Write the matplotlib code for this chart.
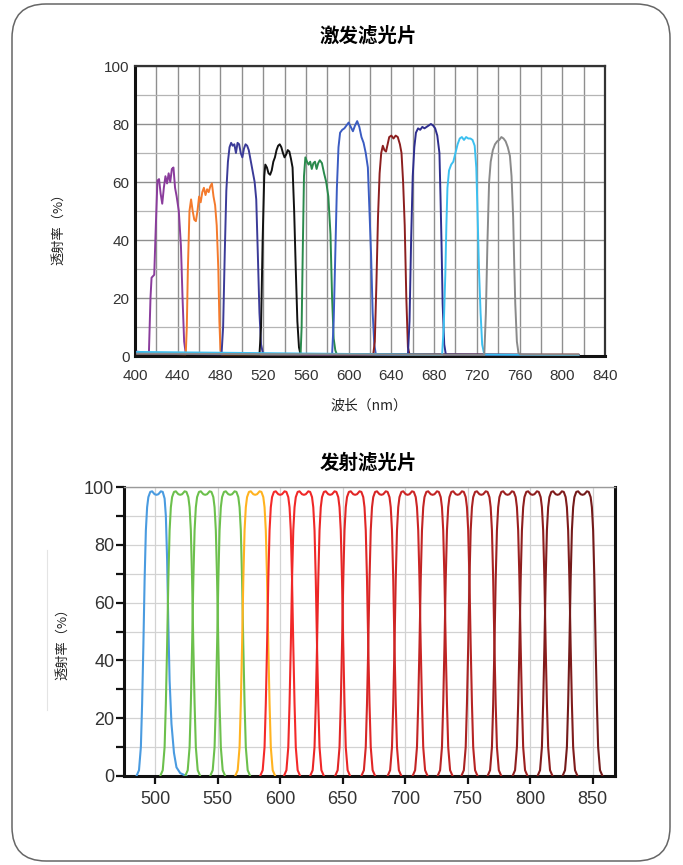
import matplotlib

matplotlib.use("Agg")
import matplotlib.pyplot as plt
import numpy as np
from matplotlib.patches import FancyBboxPatch

plt.rcParams["font.family"] = ["Liberation Sans", "Noto Sans CJK SC", "DejaVu Sans"]
CJK = ["Noto Sans CJK SC", "DejaVu Sans"]

# ---- excitation filters (wavelength nm, transmission %)
ex_names = ["purple", "orange", "navy", "black", "green", "blue", "brown", "navy2", "sky", "gray"]
ex_colors = ["#8a3c9c", "#f47a2c", "#3b3b98", "#111111", "#2a8a4c",
             "#3b5cc2", "#8c1f1f", "#2e2e8e", "#3cc0f0", "#8a8a8a"]

ex_purple_wl = [402, 408, 413, 414.5, 415.5, 418, 419.5, 421, 422.5, 424, 425.5, 427, 428.5,
                430, 431.5, 433, 434.5, 436, 437.5, 439, 441, 443, 444.5, 446, 447.5, 815]
ex_purple_t = [1.5, 1.2, 0.8, 20, 27, 28, 45, 60.5, 61, 56, 52.5, 58, 62,
               59.5, 63, 60, 64.5, 65, 58, 55, 50, 38, 20, 5, 0.8, 0.3]

ex_orange_wl = [402, 447.5, 448.5, 449.5, 451, 452.5, 454, 455.5, 457, 458.5, 460, 461.5, 463,
                464.5, 466, 467.5, 469, 470.5, 472, 473.5, 475, 476.5, 478, 479, 480, 481, 815]
ex_orange_t = [1.0, 0.6, 10, 30, 50, 54, 50, 47, 46.5, 50, 55, 53, 56.5,
               58, 55.5, 57.5, 56.5, 58.5, 59.5, 55, 52, 45, 30, 12, 2, 0.5, 0.3]

ex_navy_wl = [402, 481, 482.5, 484, 485.5, 487, 488.5, 490, 491.5, 493, 494.5, 496, 497.5,
              499, 500.5, 502, 503.5, 505, 506.5, 508, 510, 512, 513.5, 515, 516.5, 518,
              520, 815]
ex_navy_t = [1.0, 0.5, 10, 35, 57, 67, 72, 73.5, 72.5, 73, 70, 73.5, 73,
             70, 68.5, 71.5, 73, 72.5, 71, 68, 64, 60, 54, 35, 15, 4,
             0.5, 0.3]

ex_black_wl = [402, 516.5, 518, 519.5, 521, 522, 523.5, 525, 526.5, 528, 529.5, 531, 532.5,
               534, 535.5, 537, 538.5, 540, 541.5, 543, 544.5, 546, 547.5, 549, 550.5, 552,
               553.5, 555, 815]
ex_black_t = [0.8, 0.4, 10, 40, 62, 66, 65, 63, 62.5, 64, 67, 68.5, 71,
              72.5, 73, 72, 70, 68.5, 69.5, 71, 70.5, 68, 65, 50, 30, 12,
              3, 0.5, 0.3]

ex_green_wl = [402, 555, 556, 557, 558.2, 559.5, 561, 562.5, 564, 565.5, 567, 568.5, 570,
               571.5, 573, 575, 577, 579, 581, 583, 584.5, 586, 587.5, 589, 815]
ex_green_t = [1.0, 0.4, 10, 35, 62, 68.5, 67, 66, 67, 64.5, 66.5, 67, 64.5,
              66.5, 67.5, 66.5, 63, 60, 55, 42, 20, 6, 2, 0.5, 0.3]

ex_blue_wl = [402, 584.5, 586, 587.5, 589, 590.5, 592, 594, 596, 598, 600, 602, 604,
              606, 608, 610, 612, 614, 616, 618, 619.5, 621, 622.5, 624, 625.5, 815]
ex_blue_t = [1.0, 0.4, 12, 35, 58, 72, 77, 78, 78.5, 79.5, 80.5, 79, 77.5,
             79.5, 81, 79, 75.5, 73.5, 70, 65, 50, 35, 15, 4, 0.5, 0.3]

ex_brown_wl = [402, 623, 624.5, 626, 627.5, 629, 630.5, 632, 633.5, 635, 636.5, 638, 640,
               642, 644, 646, 648, 649.5, 651, 652.5, 654, 655.5, 657, 815]
ex_brown_t = [0.8, 0.4, 5, 25, 48, 63, 70, 72.5, 71, 70.5, 73, 75.5, 76,
              75, 76, 75.5, 73, 70, 60, 45, 20, 3, 0.5, 0.5]

ex_navy2_wl = [402, 655.5, 657, 658.5, 660, 661.5, 663, 665, 667, 669, 671, 673, 675,
               677, 679, 681, 683, 685, 686, 687, 688, 689.5, 691, 815]
ex_navy2_t = [1.0, 0.4, 12, 40, 62, 72, 77, 78.5, 78, 79, 78.5, 79, 79.5,
              80, 79.5, 78.5, 76, 70, 55, 38, 18, 4, 0.5, 0.3]

ex_sky_wl = [402, 687.5, 689, 690.5, 691.5, 692.5, 694, 696, 698, 700, 702, 704, 706,
             708, 710, 712, 714, 716, 718, 719.5, 720.5, 722, 723.5, 725, 727, 815]
ex_sky_t = [1.4, 0.4, 10, 28, 45, 58, 64, 66, 67, 70, 73, 75, 75.5,
            74.5, 75.5, 75, 75, 74.5, 72.5, 65, 52, 30, 15, 4, 0.5, 0.3]

ex_gray_wl = [402, 727, 728.5, 730, 731.5, 733, 735, 737, 739, 741, 743, 745, 747,
              749, 751, 752.5, 754, 755, 756, 757.5, 759, 761, 815]
ex_gray_t = [0.8, 0.4, 15, 40, 60, 67, 71, 73, 74, 74.5, 75.5, 75, 74,
             72, 69, 62, 48, 32, 18, 5, 1, 0.5, 0.5]

ex_wl = [ex_purple_wl, ex_orange_wl, ex_navy_wl, ex_black_wl, ex_green_wl,
         ex_blue_wl, ex_brown_wl, ex_navy2_wl, ex_sky_wl, ex_gray_wl]
ex_t = [ex_purple_t, ex_orange_t, ex_navy_t, ex_black_t, ex_green_t,
        ex_blue_t, ex_brown_t, ex_navy2_t, ex_sky_t, ex_gray_t]

# ---- emission filters: centre wavelengths and a common measured passband profile
em_centers = [501, 520, 540, 560, 580, 600, 619, 640, 660, 681, 702, 722, 742, 761, 782, 802, 822, 842]
em_colors = ["#4a9be0", "#6cc04c", "#6cc04c", "#6cc04c", "#ffb320",
             "#f42a2a", "#f02828", "#ea2626", "#e12626", "#d62626", "#cc2626", "#c22424",
             "#b72424", "#aa2222", "#9c2020", "#8e1e1e", "#801c1c", "#741a1a"]
em_profile_dx = [-16, -14, -12.5, -11.5, -10.5, -9.5, -8.5, -7.5, -6.5, -5, -3.5, -1.5, 0,
                 1.5, 3.5, 5, 6.5, 7.5, 8.5, 9.5, 10.5, 11.5, 12.5, 14, 16]
em_profile_t = [0, 2, 10, 25, 45, 68, 85, 93, 96.5, 98.3, 98.5, 97.5, 97.3,
                97.5, 98.5, 98.3, 96.5, 93, 85, 68, 45, 25, 10, 2, 0]
# the blue one has a softer long-wave tail
em_blue_dx = [-16, -14, -12.5, -11.5, -10.5, -9.5, -8.5, -7.5, -6.5, -5, -3.5, -1.5, 0,
              1.5, 3.5, 5, 6.5, 7.5, 8.5, 9.5, 10.5, 12, 14, 16, 19, 24]
em_blue_t = [0, 2, 10, 25, 45, 68, 85, 93, 96.5, 98.3, 98.5, 97.5, 97.3,
             97.5, 98.5, 98.3, 96, 90, 75, 52, 33, 18, 8, 3, 1, 0]

fig = plt.figure(figsize=(6.83, 8.65), dpi=100)

# rounded frame round the whole card
bg = fig.add_axes([0, 0, 1, 1], zorder=-1)
bg.set_xlim(0, 683)
bg.set_ylim(865, 0)
bg.axis("off")
bg.add_patch(FancyBboxPatch((12, 4), 658, 857, boxstyle="round,pad=0,rounding_size=34",
                            fc="none", ec="#666666", lw=1.1))
bg.plot([47, 47], [550, 710], color="#e4e4e4", lw=0.8)

# ---------------- top: excitation
ax1 = fig.add_axes([135 / 683, 1 - 356 / 865, 470 / 683, 290 / 865])
for wl, t, c in zip(ex_wl, ex_t, ex_colors):
    ax1.plot(wl, t, color=c, lw=1.4, zorder=3)
ax1.set_xlim(400, 840)
ax1.set_ylim(0, 100)
ax1.set_xticks(np.arange(400, 841, 40))
ax1.set_xticks(np.arange(420, 841, 40), minor=True)
ax1.set_yticks(np.arange(0, 101, 20))
ax1.set_yticks(np.arange(10, 100, 20), minor=True)
ax1.grid(which="major", color="#8f8f8f", lw=1.0)
ax1.grid(which="minor", axis="x", color="#8f8f8f", lw=1.0)
ax1.grid(which="minor", axis="y", color="#b4b4b4", lw=0.9)
ax1.set_axisbelow(True)
ax1.tick_params(which="both", length=0, labelsize=11, labelcolor="#333333")
ax1.tick_params(axis="x", pad=9)
ax1.tick_params(axis="y", pad=4)
for s in ("left", "bottom"):
    ax1.spines[s].set_linewidth(2.2)
    ax1.spines[s].set_color("#111111")
for s in ("top", "right"):
    ax1.spines[s].set_linewidth(1.6)
    ax1.spines[s].set_color("#333333")

fig.text(368 / 683, 1 - 36 / 865, "激发滤光片", family=CJK, fontsize=14, fontweight="bold",
         ha="center", va="center")
fig.text(369 / 683, 1 - 406 / 865, "波长（nm）", family=CJK, fontsize=10, color="#222222",
         ha="center", va="center")
fig.text(59 / 683, 1 - 226 / 865, "透射率（%）", family=CJK, fontsize=9.5, color="#222222",
         rotation=90, ha="center", va="center")

# ---------------- bottom: emission
ax2 = fig.add_axes([124 / 683, 1 - 776 / 865, 491 / 683, 289 / 865])
for i, (c0, col) in enumerate(zip(em_centers, em_colors)):
    dx, t = (em_blue_dx, em_blue_t) if i == 0 else (em_profile_dx, em_profile_t)
    ax2.plot(np.array(dx) + c0, t, color=col, lw=1.5, zorder=3, solid_joinstyle="round")
ax2.set_xlim(475, 868)
ax2.set_ylim(0, 100)
ax2.set_xticks(np.arange(500, 851, 50))
ax2.set_yticks(np.arange(0, 101, 20))
ax2.set_yticks(np.arange(10, 100, 20), minor=True)
ax2.grid(which="major", color="#d2d2d2", lw=0.9)
ax2.grid(which="minor", axis="y", color="#d2d2d2", lw=0.9)
ax2.set_axisbelow(True)
ax2.tick_params(which="both", direction="out", length=6, width=1.6, color="#111111",
                labelsize=13, labelcolor="#333333")
ax2.tick_params(axis="x", pad=5)
ax2.tick_params(axis="y", pad=1)
for s in ("left", "bottom", "right"):
    ax2.spines[s].set_linewidth(2.2)
    ax2.spines[s].set_color("#111111")
ax2.spines["top"].set_linewidth(1.0)
ax2.spines["top"].set_color("#9a9a9a")

fig.text(368 / 683, 1 - 463 / 865, "发射滤光片", family=CJK, fontsize=14, fontweight="bold",
         ha="center", va="center")
fig.text(63 / 683, 1 - 641 / 865, "透射率（%）", family=CJK, fontsize=9.5, color="#222222",
         rotation=90, ha="center", va="center")

fig.savefig("out.png", dpi=100, facecolor="white")
